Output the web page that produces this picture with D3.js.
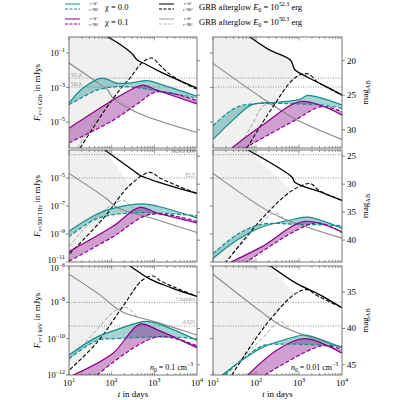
<!DOCTYPE html>
<html><head><meta charset="utf-8">
<script src="https://cdn.jsdelivr.net/npm/d3@7"></script>
<style>body{margin:0;background:#fff}text{font-family:"Liberation Serif","DejaVu Serif",serif}</style>
</head><body><svg id="c" width="400" height="400"></svg>
<script>
// all curves as [log10 t (days), log10 F (mJy)]
// row 1: 1 GHz, left n0=0.1, right n0=0.01
var g1L_blk = [[1.91,-0.07],[2.2,-0.5],[2.43,-0.92],[2.5,-1.1],[2.6,-1.4],[2.8,-1.65],[3.06,-1.99],[3.5,-2.5],[4,-3.03]];
var g1L_blkD = [[1.26,-6.5],[1.6,-5.2],[1.89,-4.13],[2.2,-3.1],[2.43,-2.45],[2.73,-1.52],[2.94,-1.29],[3.13,-1.7],[3.3,-2.1],[3.6,-2.6],[4,-3.1]];
var g1L_gry = [[1,-1.58],[1.66,-2.7],[1.91,-3.15],[2.03,-3.6],[2.59,-4.45],[4,-5.6]];
var g1L_gryD = [[1.2,-6.5],[1.5,-5.3],[1.8,-4.2],[2.0,-3.7],[2.1,-3.62],[2.3,-3.95],[2.6,-4.45]];
var g1L_teal = [[1,-3.9],[1.33,-3.03],[1.77,-2.45],[2.12,-2.74],[2.43,-2.74],[2.83,-2.6],[3.13,-2.8],[4,-3.5]];
var g1L_tealD = [[1,-4.0],[1.66,-3.15],[2.12,-2.95],[2.6,-3.0],[3.06,-3.2],[4,-3.6]];
var g1L_pur = [[1,-5.35],[2.03,-3.72],[2.43,-3.15],[2.73,-2.86],[3.06,-3.15],[4,-3.95]];
var g1L_purD = [[1,-6.2],[2.03,-4.9],[2.6,-3.95],[3.06,-3.25],[4,-3.75]];
var g1R_blk = [[1.86,-0.07],[2.3,-0.8],[2.8,-1.4],[2.9,-1.95],[3.2,-2.4],[3.6,-2.9],[4,-3.43]];
var g1R_blkD = [[1.79,-6.5],[2.37,-4.2],[2.9,-2.45],[3.2,-2.2],[3.44,-2.7],[3.7,-3.05],[4,-3.45]];
var g1R_gry = [[1,-1.6],[2.14,-3.6],[2.9,-4.8],[4,-6.0]];
var g1R_gryD = [[1.58,-6.5],[1.9,-5.2],[2.15,-4.1],[2.3,-3.95],[2.5,-4.2]];
var g1R_teal = [[1,-6.0],[1.5,-4.8],[1.9,-4.0],[2.5,-3.85],[3.0,-3.7],[3.2,-3.45],[3.5,-3.6],[4,-4.0]];
var g1R_tealD = [[1,-5.2],[1.5,-4.2],[1.9,-3.95],[3,-3.95],[3.5,-4.0],[4,-4.2]];
var g1R_pur = [[1.44,-6.5],[2.14,-5.2],[3.07,-3.8],[4,-4.6]];
var g1R_purD = [[1.74,-6.5],[2.9,-4.9],[3.53,-4.1],[4,-4.4]];
// row 2: 500 THz
var g2L_blk = [[1.84,-3.0],[2.5,-4.45],[2.66,-4.8],[3.2,-5.4],[4,-6.1]];
var g2L_blkD = [[1.02,-10.4],[1.8,-7.9],[2.43,-5.5],[2.9,-4.6],[3.13,-5.0],[3.5,-5.5],[4,-6.1]];
var g2L_gry = [[1,-4.67],[1.89,-6.5],[2.12,-7.1],[2.97,-7.9],[4,-8.9]];
var g2L_gryD = [[1,-9.9],[1.66,-7.7],[2.27,-6.6],[2.43,-7.0],[2.8,-7.7]];
var g2L_teal = [[1,-8.8],[1.66,-7.57],[2.12,-7.1],[2.73,-6.85],[3.06,-7.0],[4,-7.85]];
var g2L_tealD = [[1,-9.2],[1.66,-7.9],[2.43,-7.5],[3.06,-7.5],[4,-7.7]];
var g2L_pur = [[1,-10.25],[2.03,-8.45],[2.66,-7.1],[3.06,-7.5],[4,-8.2]];
var g2L_purD = [[1,-10.95],[2.03,-9.2],[2.9,-7.6],[4,-8.1]];
var g2R_blk = [[1.81,-3.0],[2.84,-4.95],[2.9,-5.3],[3.5,-6.0],[4,-6.6]];
var g2R_blkD = [[1.28,-11.1],[2.14,-7.9],[2.84,-5.9],[3.26,-5.4],[3.47,-5.9],[4,-6.6]];
var g2R_gry = [[1,-4.67],[2.14,-7.1],[2.6,-7.85],[4,-9.3]];
var g2R_gryD = [[1.28,-11.1],[1.98,-8.65],[2.44,-7.5],[2.65,-7.9]];
var g2R_teal = [[1,-10.75],[1.58,-9.4],[2.14,-8.5],[2.8,-8.0],[3.2,-7.8],[4,-8.6]];
var g2R_tealD = [[1,-10.4],[1.58,-9.0],[2.14,-8.3],[2.9,-8.3],[4,-8.4]];
var g2R_pur = [[1.35,-11.1],[2.14,-9.9],[3.14,-8.1],[4,-8.85]];
var g2R_purD = [[1.74,-11.1],[2.9,-8.8],[3.44,-8.2],[4,-8.9]];
// row 3: 1 keV
var g3L_blk = [[2.43,-6.0],[2.9,-6.72],[3.4,-7.2],[4,-7.67]];
var g3L_blkD = [[1.02,-11.7],[1.66,-10.2],[2.27,-8.2],[2.71,-6.8],[2.97,-6.55],[3.13,-6.8],[3.5,-7.2],[4,-7.67]];
var g3L_gry = [[1,-6.45],[1.77,-7.67],[1.91,-7.95],[2.27,-8.55],[3.06,-9.1],[4,-9.8]];
var g3L_gryD = [[1,-11.2],[1.5,-9.9],[2.12,-8.4],[2.36,-8.3],[2.6,-8.8]];
var g3L_teal = [[1,-10.9],[1.66,-9.9],[2.12,-9.5],[2.83,-9.05],[3.44,-9.5],[4,-10.1]];
var g3L_tealD = [[1,-11.1],[1.66,-10.1],[2.12,-10.0],[3.3,-9.9],[4,-10.0]];
var g3L_pur = [[1.1,-12],[2.03,-10.8],[2.66,-9.2],[3.06,-9.5],[4,-10.5]];
var g3L_purD = [[1.66,-12],[3.06,-9.9],[4,-10.4]];
var g3R_blk = [[2.28,-5.9],[2.9,-6.9],[3.5,-7.6],[4,-8.3]];
var g3R_blkD = [[1.44,-12],[2.21,-9.3],[2.9,-7.55],[3.19,-7.3],[3.4,-7.6],[4,-8.3]];
var g3R_gry = [[1,-6.45],[2.14,-8.55],[2.6,-9.3],[4,-10.5]];
var g3R_gryD = [[1.28,-12],[2.14,-10.0],[2.56,-9.05],[2.75,-9.4]];
var g3R_teal = [[1.21,-12],[2.14,-10.5],[2.9,-9.9],[3.14,-9.8],[4,-10.5]];
var g3R_tealD = [[1.28,-12],[2.14,-10.4],[2.6,-10.3],[4,-10.4]];
var g3R_pur = [[1.81,-12],[2.51,-10.6],[3.14,-10.0],[4,-10.8]];
var g3R_purD = [[2.21,-12],[3.53,-10.4],[4,-10.6]];

var rowDomains = [[-6.5,-0.07],[-11,-3],[-12,-6]];
var rowTicks = [[-1,-3,-5],[-5,-7,-9,-11],[-6,-8,-10,-12]];
var magTicks = [[20,25,30],[25,30,35,40],[35,40,45]];
var rowLabels = ["ν=1 GHz","ν=500 THz","ν=1 keV"];
var instruments = [[["VLA",-2.45],["SKA",-2.97]],[["Rubin Obs",-3.33],["ELT",-5.0]],[["Chandra",-8],["AXIS",-9.3]]];
var shadeMeet = [[2.73,2.9],[2.43,2.84],[2.71,2.9]];
var densities = ["0.1","0.01"];

var curves = [
  [[g1L_blk,g1L_blkD,g1L_gry,g1L_gryD,g1L_teal,g1L_tealD,g1L_pur,g1L_purD],[g1R_blk,g1R_blkD,g1R_gry,g1R_gryD,g1R_teal,g1R_tealD,g1R_pur,g1R_purD]],
  [[g2L_blk,g2L_blkD,g2L_gry,g2L_gryD,g2L_teal,g2L_tealD,g2L_pur,g2L_purD],[g2R_blk,g2R_blkD,g2R_gry,g2R_gryD,g2R_teal,g2R_tealD,g2R_pur,g2R_purD]],
  [[g3L_blk,g3L_blkD,g3L_gry,g3L_gryD,g3L_teal,g3L_tealD,g3L_pur,g3L_purD],[g3R_blk,g3R_blkD,g3R_gry,g3R_gryD,g3R_teal,g3R_tealD,g3R_pur,g3R_purD]]
];

var colX = [[69,197],[213,342]];
var rowY = [[37,148],[150,262],[266,375]];
var TEAL = "#138c8c", PURP = "#870087";
var svg = d3.select("#c");
var sup = function(sel, base, exp) {
  sel.text(base);
  sel.append("tspan").attr("dy", -4).attr("font-size", "70%").text(exp);
};

function interp(arr, lt) {
  for (var i = 1; i < arr.length; i++) {
    if (arr[i][0] >= lt) {
      var a = arr[i-1], b = arr[i], f = (lt - a[0]) / (b[0] - a[0]);
      return a[1] + f * (b[1] - a[1]);
    }
  }
  return arr[arr.length-1][1];
}

rowY.forEach(function(ry, r) {
  colX.forEach(function(cx, c) {
    var x = d3.scaleLinear().domain([1,4]).range(cx);
    var y = d3.scaleLinear().domain(rowDomains[r]).range([ry[1], ry[0]]);
    var id = "clip" + r + c;
    svg.append("clipPath").attr("id", id).append("rect")
      .attr("x", cx[0]).attr("y", ry[0]).attr("width", cx[1]-cx[0]).attr("height", ry[1]-ry[0]);
    var g = svg.append("g").attr("clip-path", "url(#" + id + ")");
    var line = d3.line().x(d => x(d[0])).y(d => y(d[1])).curve(d3.curveCatmullRom);
    var cv = curves[r][c];
    var top = rowDomains[r][1] + 1, bot = rowDomains[r][0] - 1;

    // shaded region left of the bright afterglow
    var m = shadeMeet[r][c];
    var sh = [[0.5, top], [cv[0][0][0], top]]
      .concat(cv[0].filter(p => p[0] < m)).concat([[m, interp(cv[1], m)]])
      .concat(cv[1].filter(p => p[0] < m).reverse()).concat([[0.5, bot]]);
    g.append("path").attr("d", d3.line().x(d => x(d[0])).y(d => y(d[1]))(sh)).attr("fill", "#f0f0f0");

    // dotted sensitivities
    instruments[r].forEach(function(ins) {
      g.append("line").attr("x1", cx[0]).attr("x2", cx[1]).attr("y1", y(ins[1])).attr("y2", y(ins[1]))
        .attr("stroke", "#777").attr("stroke-width", 0.8).attr("stroke-dasharray", "1,1.5");
      if (c == 0) {
        var lx = r == 0 ? cx[0] + 2 : cx[1] - 2;
        svg.append("text").attr("x", lx).attr("y", y(ins[1]) - 1.5).attr("font-size", 5.5)
          .attr("fill", "#999").attr("text-anchor", r == 0 ? "start" : "end").text(ins[0]);
      }
    });

    var band = function(up, lo, col) {
      g.append("path").attr("d", line(up) + "L" + line(lo.slice().reverse()).slice(1) + "Z")
        .attr("fill", col).attr("fill-opacity", 0.38);
    };
    band(cv[4], cv[5], TEAL);
    band(cv[6], cv[7], PURP);

    var styles = [["#000",1.3,null],["#000",1.1,"4,2"],["#888",1.1,null],["#999",0.9,"4,2"],
                  [TEAL,1.2,null],[TEAL,1.2,"4,2"],[PURP,1.2,null],[PURP,1.2,"4,2"]];
    [2,3,0,1,4,5,6,7].forEach(function(k) {
      g.append("path").attr("d", line(cv[k])).attr("fill", "none").attr("stroke", styles[k][0])
        .attr("stroke-width", styles[k][1]).attr("stroke-dasharray", styles[k][2]);
    });

    // frame
    svg.append("rect").attr("x", cx[0]).attr("y", ry[0]).attr("width", cx[1]-cx[0]).attr("height", ry[1]-ry[0])
      .attr("fill", "none").attr("stroke", "#555").attr("stroke-width", 0.8);

    // x ticks
    var ax = svg.append("g");
    for (var d = 1; d < 4; d++) for (var k = 1; k < 10; k++) {
      var xv = x(d + Math.log10(k)), len = k == 1 ? 3.5 : 2;
      ax.append("line").attr("x1", xv).attr("x2", xv).attr("y1", ry[1]).attr("y2", ry[1] - len).attr("stroke", "#555").attr("stroke-width", 0.6);
      ax.append("line").attr("x1", xv).attr("x2", xv).attr("y1", ry[0]).attr("y2", ry[0] + len).attr("stroke", "#555").attr("stroke-width", 0.6);
    }
    if (r == 2) {
      [1,2,3,4].forEach(function(e) {
        svg.append("text").attr("x", x(e)).attr("y", ry[1] + 11).attr("font-size", 9).attr("text-anchor", "middle")
          .call(sup, "10", e);
      });
      svg.append("text").attr("x", (cx[0]+cx[1])/2).attr("y", 397).attr("font-size", 9).attr("text-anchor", "middle")
        .html('<tspan font-style="italic">t</tspan> in days');
      svg.append("text").attr("x", cx[1] - 4).attr("y", ry[1] - 5).attr("font-size", 8).attr("text-anchor", "end")
        .html('<tspan font-style="italic">n</tspan><tspan font-size="70%" dy="2">0</tspan><tspan dy="-2"> = ' + densities[c] + ' cm</tspan><tspan dy="-4" font-size="70%">−3</tspan>');
    }

    // y ticks
    rowTicks[r].forEach(function(e) {
      svg.append("line").attr("x1", cx[0]).attr("x2", cx[0] - 3).attr("y1", y(e)).attr("y2", y(e)).attr("stroke", "#555").attr("stroke-width", 0.7);
      if (c == 0) {
        var yl = y(e) + 3;
        if (r == 1 && e == -11) yl -= 2;
        if (r == 2 && e == -6) yl += 2;
        svg.append("text").attr("x", cx[0] - 4).attr("y", yl).attr("font-size", 8.5).attr("text-anchor", "end").call(sup, "10", "−" + (-e));
      }
    });
    magTicks[r].forEach(function(mg) {
      var yy = y((16.4 - mg) / 2.5);
      svg.append("line").attr("x1", cx[1]).attr("x2", cx[1] + 3).attr("y1", yy).attr("y2", yy).attr("stroke", "#555").attr("stroke-width", 0.7);
      if (c == 1) svg.append("text").attr("x", cx[1] + 5).attr("y", yy + 3).attr("font-size", 9).text(mg);
    });
    if (c == 0) {
      svg.append("text").attr("transform", "translate(40," + (ry[0]+ry[1])/2 + ") rotate(-90)")
        .attr("font-size", 9).attr("text-anchor", "middle")
        .html('<tspan font-style="italic">F</tspan><tspan font-size="65%" dy="2">' + rowLabels[r] + '</tspan><tspan dy="-2"> in mJys</tspan>');
    } else {
      svg.append("text").attr("transform", "translate(368," + (ry[0]+ry[1])/2 + ") rotate(-90)")
        .attr("font-size", 9).attr("text-anchor", "middle")
        .html('mag<tspan font-size="70%" dy="2">AB</tspan>');
    }
  });
});

// legend
var erg = function(e) { return "GRB afterglow <tspan font-style='italic'>E</tspan><tspan font-size='70%' dy='2'>0</tspan><tspan dy='-2'> = 10</tspan><tspan font-size='70%' dy='-4'>" + e + "</tspan><tspan dy='4'> erg</tspan>"; };
var leg = [[65,6,TEAL,TEAL,"χ = 0.0"],[65,21,PURP,PURP,"χ = 0.1"],
           [159,6,"#000","#000",erg("52.3")],[159,21,"#999","#bbb",erg("50.3")]];
leg.forEach(function(l) {
  svg.append("line").attr("x1", l[0]).attr("x2", l[0]+15).attr("y1", l[1]-2).attr("y2", l[1]-2).attr("stroke", l[2]).attr("stroke-width", 1);
  svg.append("line").attr("x1", l[0]).attr("x2", l[0]+15).attr("y1", l[1]+3).attr("y2", l[1]+3).attr("stroke", l[3]).attr("stroke-width", 1).attr("stroke-dasharray", "3,1.5");
  svg.append("text").attr("x", l[0]+29).attr("y", l[1]-1).attr("font-size", 4.5).attr("text-anchor", "middle").text("ι=0°");
  svg.append("text").attr("x", l[0]+29).attr("y", l[1]+5).attr("font-size", 4.5).attr("text-anchor", "middle").text("ι=90°");
  svg.append("text").attr("x", l[0]+40).attr("y", l[1]+4).attr("font-size", 8.5).html(l[4]);
});
</script></body></html>
